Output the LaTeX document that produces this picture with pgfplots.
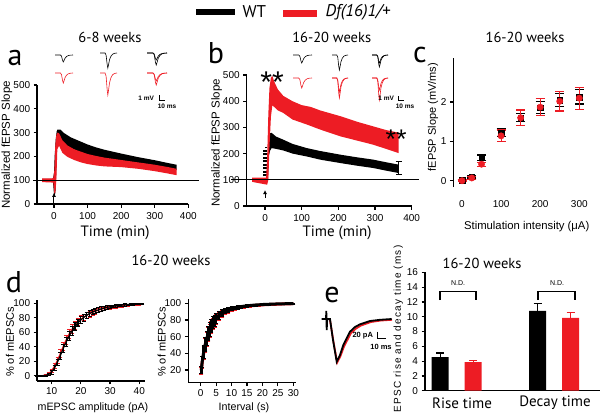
\documentclass[border=0pt]{standalone}
\usepackage{fontspec}
\setmainfont{Liberation Sans}
\newfontfamily\myriad{PT Sans}
\usepackage{pgfplots}
\usepackage{pgfplotstable}
\pgfplotsset{compat=1.18}
\usetikzlibrary{arrows.meta}
\definecolor{myred}{RGB}{237,28,36}
\newcommand\fs[1]{\fontsize{#1}{#1}\selectfont}
\pgfplotsset{panel/.style={anchor=south west, scale only axis, axis lines=left,
  axis line style={-, line width=1.5pt}, tick style={black, line width=1.2pt},
  tick align=outside, major tick length=3.5pt, tick label style={font=\fs{10}},
  /pgf/number format/assume math mode=true, clip=false}}

\pgfplotstableread{
x v
0 0
0.30 0
0.36 -0.15
0.42 -0.75
0.46 -1
0.50 -0.8
0.56 -0.45
0.64 -0.22
0.74 -0.08
0.86 -0.02
1 0
}\shape
\newcommand\tr[5]{\addplot[#1,line width=0.6pt] table[x expr={#2+#3*\thisrow{x}}, y expr={#4-#5*\thisrow{v}}]{\shape};}

% panel c
\pgfplotstableread{
x y e
0 0.01 0.02
25 0.10 0.03
50 0.585 0.07
100 1.22 0.10
150 1.60 0.10
200 1.86 0.15
250 2.05 0.17
300 2.13 0.18
}\cwt
\pgfplotstableread{
x y e
0 0.00 0.02
25 0.07 0.03
50 0.42 0.05
100 1.14 0.15
150 1.60 0.20
200 1.87 0.22
250 2.02 0.25
300 2.10 0.28
}\cdf
% panel d left
\pgfplotstableread{
x y e
5 0 0.3
6 0 0.3
7 0.1 0.3
8 0.6 0.8
9 2 1.5
10 5 2.5
11 11 3.5
12 19 4.5
13 28 5
14 38 5.5
15 47 6
16 55 6
17 62 6
18 68 5.5
19 73 5
20 77 5
21 80.5 4.5
22 83.5 4
23 86 4
24 88 3.5
25 89.5 3.5
26 91 3
27 92.5 3
28 93.5 2.5
29 94.5 2.5
30 95.2 2
31 96 2
32 96.5 2
33 97 1.5
34 97.5 1.5
35 98 1.5
36 98.3 1
37 98.6 1
38 98.9 1
39 99.2 1
40 99.4 0.8
41 99.6 0.6
}\dawt
\pgfplotstableread{
x y e
5 0 0.3
6 0 0.3
7 0.2 0.3
8 1 0.8
9 3 1.5
10 7 2.5
11 13.5 3.5
12 21.5 4.5
13 31 5
14 41 5.5
15 50 6
16 58 6
17 64.5 6
18 70 5.5
19 74.5 5
20 78 5
21 81 4.5
22 83.5 4
23 85.5 4
24 87.5 3.5
25 89 3.5
26 90.5 3
27 91.8 3
28 92.8 2.5
29 93.7 2.5
30 94.5 2
31 95.2 2
32 95.8 2
33 96.3 1.5
34 96.8 1.5
35 97.2 1.5
36 97.6 1
37 97.9 1
38 98.2 1
39 98.5 1
40 98.8 0.8
41 99 0.6
}\dadf
% panel d right
\pgfplotstableread{
x y e
0.2 20 4
0.5 30 7
1 42 8
1.5 51 8.5
2 58 8.5
2.5 64 8.5
3 69 8
3.5 73 7.5
4 77 7
4.5 79.5 6.5
5 82 6
6 86 5
7 89 4.2
8 91 3.5
9 92.5 3
10 93.7 2.6
11 94.6 2.3
12 95.3 2
13 96 1.8
14 96.5 1.6
15 97 1.5
16 97.3 1.4
17 97.7 1.3
18 98 1.2
19 98.2 1.1
20 98.5 1
22 98.8 0.9
24 99.1 0.8
26 99.3 0.7
28 99.5 0.6
30 99.6 0.6
}\diwt
\pgfplotstableread{
x y e
0.2 19 4
0.5 29 7
1 40.5 8
1.5 49.5 8.5
2 56.5 8.5
2.5 62.5 8.5
3 67.5 8
3.5 71.5 7.5
4 75.5 7
4.5 78 6.5
5 80.5 6
6 84.5 5
7 87.5 4.2
8 89.8 3.5
9 91.5 3
10 92.8 2.6
11 93.8 2.3
12 94.6 2
13 95.3 1.8
14 95.9 1.6
15 96.4 1.5
16 96.8 1.4
17 97.2 1.3
18 97.5 1.2
19 97.8 1.1
20 98.1 1
22 98.5 0.9
24 98.8 0.8
26 99.1 0.7
28 99.3 0.6
30 99.5 0.6
}\didf

\begin{document}
\begin{tikzpicture}
\path[use as bounding box] (0,0) rectangle (601pt,418pt);

% ---------- panel a ----------
\begin{axis}[panel, at={(37.2pt,214pt)}, width=151.1pt, height=119pt,
  xmin=-50, xmax=400, ymin=0, ymax=500, xtick={0,100,...,400}, ytick={0,100,...,500},
  xticklabel style={yshift=-1.5pt}]
\addplot[fill=black, draw=none] coordinates {(-35,106) (-3,106) (0,130) (2,200) (5,270) (8,305) (10,312) (20,312) (30,298) (50,280) (75,265) (100,250) (125,238) (150,228) (175,220) (200,212) (250,197) (300,184) (340,172) (365,165)
 (365,142) (340,147) (300,155) (250,165) (200,175) (175,180) (150,185) (125,192) (100,205) (75,220) (50,235) (30,250) (20,265) (10,270) (8,200) (5,60) (2,30) (0,40) (-3,94) (-35,94)};
\addplot[fill=myred, draw=none] coordinates {(-35,108) (-5,108) (-2,110) (1,140) (4,250) (7,290) (10,300) (15,298) (25,268) (40,246) (60,230) (80,220) (100,210) (125,202) (150,195) (200,185) (250,175) (300,165) (340,155) (365,148)
 (365,121) (340,128) (300,138) (250,148) (200,155) (150,158) (125,162) (100,168) (80,175) (60,185) (40,198) (25,215) (15,245) (10,230) (7,100) (4,45) (1,45) (-2,90) (-35,92)};
\addplot[black, line width=1.2pt] coordinates {(-62,100) (431,100)};
\addplot[black, line width=1pt, -{Latex[length=4pt,width=4pt]}] coordinates {(0,-4) (0,47)};
\end{axis}

% ---------- panel b ----------
\begin{axis}[panel, at={(246.7pt,212pt)}, width=165pt, height=131pt,
  xmin=-50, xmax=400, ymin=0, ymax=500, xtick={0,100,...,400}, ytick={0,100,...,500},
  xticklabel style={yshift=-1.5pt}]
\addplot[fill=black, draw=none] coordinates {(-35,105) (8,105) (10,255) (14,278) (18,279) (30,265) (50,253) (75,237) (114,221) (150,210) (205,196) (250,186) (295,177) (330,167) (364,158)
 (364,126) (330,135) (295,145) (250,154) (205,164) (150,177) (114,189) (75,200) (50,212) (30,218) (18,221) (14,212) (10,190) (8,95) (-35,95)};
\addplot[black, line width=1.6pt, dash pattern=on 2pt off 1.5pt] coordinates {(-3,100) (-3,215)};
\addplot[black, line width=1.6pt, dash pattern=on 2pt off 1.5pt] coordinates {(3,100) (3,225)};
\addplot[fill=myred, draw=none] coordinates {(-35,108) (3,108) (6,200) (9,350) (12,450) (16,490) (20,496) (25,475) (35,445) (50,420) (75,400) (100,385) (125,378) (150,365) (175,355) (205,343) (250,322) (295,304) (330,290) (364,280)
 (364,202) (330,218) (295,234) (250,250) (205,266) (175,280) (150,292) (114,311) (75,330) (50,355) (35,365) (25,378) (20,385) (16,340) (12,220) (9,100) (6,82) (3,82) (-35,92)};
\addplot[black, line width=1pt, draw=none, error bars/.cd, y dir=both, y explicit, error bar style={black, line width=1pt}, error mark options={rotate=90, black, mark size=3pt, line width=1pt}] coordinates {(364,145) +- (0,25)};
\addplot[black, line width=1.2pt] coordinates {(-92,100) (420,100)};
\addplot[black, line width=1pt, -{Latex[length=4pt,width=4pt]}] coordinates {(0,30) (0,61)};
\end{axis}

% ---------- panel c ----------
\begin{axis}[panel, at={(453.4pt,231pt)}, width=133.7pt, height=129pt,
  xmin=-22, xmax=320, ymin=-0.16, ymax=3.12, xtick={0,100,200,300}, ytick={0,1,2},
  x axis line style={draw=none}, major x tick style={draw=none},
  xticklabel style={yshift=-6pt}]
\addplot[black, only marks, mark=square*, mark size=2.8pt, error bars/.cd, y dir=both, y explicit, error bar style={black, line width=1.2pt}, error mark options={rotate=90, black, mark size=4.5pt, line width=1.2pt}] table[x=x, y=y, y error=e] {\cwt};
\addplot[myred, only marks, mark=*, mark size=3.2pt, error bars/.cd, y dir=both, y explicit, error bar style={myred, line width=1.2pt}, error mark options={rotate=90, myred, mark size=4.5pt, line width=1.2pt}] table[x=x, y=y, y error=e] {\cdf};
\end{axis}

% ---------- panel d left ----------
\begin{axis}[panel, at={(37.1pt,37.2pt)}, width=108pt, height=81.1pt,
  xmin=5, xmax=42, ymin=-7, ymax=105, xtick={10,20,30,40}, ytick={0,20,...,100}]
\addplot[myred, line width=1.2pt, error bars/.cd, y dir=both, y explicit, error bar style={myred, line width=1.1pt}] table[x=x, y=y, y error=e] {\dadf};
\addplot[black, line width=1.2pt, error bars/.cd, y dir=both, y explicit, error bar style={black, line width=1.1pt}] table[x=x, y=y, y error=e] {\dawt};
\end{axis}

% ---------- panel d right ----------
\begin{axis}[panel, at={(188.3pt,35.5pt)}, width=108.1pt, height=83.4pt,
  xmin=-4, xmax=31, ymin=5, ymax=105, xtick={0,5,...,30}, ytick={20,40,...,100}]
\addplot[myred, line width=3pt, error bars/.cd, y dir=both, y explicit, error bar style={myred, line width=2.5pt}] table[x=x, y=y, y error=e] {\didf};
\addplot[black, line width=3pt, error bars/.cd, y dir=both, y explicit, error bar style={black, line width=2.5pt}] table[x=x, y=y, y error=e] {\diwt};
\end{axis}

% ---------- panel e ----------
\begin{axis}[panel, at={(425pt,27.3pt)}, width=175pt, height=118.4pt,
  xmin=0.676, xmax=2.47, ymin=0, ymax=16, ytick={0,2,...,16}, xtick=\empty,
  ybar, bar width=17pt]
\addplot[fill=black, draw=none, bar shift=-16.5pt, error bars/.cd, y dir=plus, y explicit, error bar style={black, line width=1.2pt}, error mark options={rotate=90, black, mark size=4pt, line width=1.2pt}] coordinates {(1,4.55) +- (0,0.55) (2,10.8) +- (0,1.0)};
\addplot[fill=myred, draw=none, bar shift=16.5pt, error bars/.cd, y dir=plus, y explicit, error bar style={myred, line width=1.2pt}, error mark options={rotate=90, myred, mark size=4pt, line width=1.2pt}] coordinates {(1,3.85) +- (0,0.25) (2,9.85) +- (0,0.7)};
\end{axis}

% ---------- overlay (pixel coordinates, y downward) ----------
\begin{axis}[at={(0pt,0pt)}, anchor=south west, scale only axis, width=601pt, height=418pt,
  xmin=0, xmax=601, ymin=0, ymax=418, y dir=reverse, hide axis, clip=false]
% legend
\addplot[black, line width=6.5pt] coordinates {(196,12) (235,12)};
\addplot[myred, line width=7pt] coordinates {(283,13) (317,13)};
\node[anchor=west, font=\myriad\fs{17}] at (axis cs:239,12) {WT};
\node[anchor=west, font=\myriad\itshape\fs{17}] at (axis cs:322,12) {Df(16)1/+};
% titles
\node[font=\myriad\fs{14.5}] at (axis cs:110,37) {6-8 weeks};
\node[font=\myriad\fs{14.5}] at (axis cs:331.7,37) {16-20 weeks};
\node[font=\myriad\fs{14.5}] at (axis cs:525,37) {16-20 weeks};
\node[font=\myriad\fs{14.5}] at (axis cs:171,260) {16-20 weeks};
\node[font=\myriad\fs{14.5}] at (axis cs:482,263) {16-20 weeks};
% panel letters
\node[anchor=base, font=\myriad\fs{30}] at (axis cs:15,65) {a};
\node[anchor=base, font=\myriad\fs{30}] at (axis cs:216,63) {b};
\node[anchor=base, font=\myriad\fs{30}] at (axis cs:420,62) {c};
\node[anchor=base, font=\myriad\fs{30}] at (axis cs:14,292) {d};
\node[anchor=base, font=\myriad\fs{30}] at (axis cs:332,302) {e};
% axis labels
\node[font=\myriad\fs{15}] at (axis cs:115,233) {Time (min)};
\node[font=\myriad\fs{15}] at (axis cs:337,233) {Time (min)};
\node[font=\fs{11.3}] at (axis cs:526.7,227) {Stimulation intensity (μA)};
\node[font=\fs{10.7}] at (axis cs:93,408) {mEPSC amplitude (pA)};
\node[font=\fs{10.7}] at (axis cs:244,408) {Interval (s)};
\node[font=\myriad\fs{15}] at (axis cs:462,403) {Rise time};
\node[font=\myriad\fs{15}] at (axis cs:555,403) {Decay time};
\node[rotate=90, font=\fs{11.5}] at (axis cs:7,145) {Normalized fEPSP Slope};
\node[rotate=90, font=\fs{11.5}] at (axis cs:216.7,143) {Normalized fEPSP Slope};
\node[rotate=90, font=\fs{11}] at (axis cs:433,117) {fEPSP Slope (mV/ms)};
\node[rotate=90, font=\fs{11}] at (axis cs:10,342) {\% of mEPSCs};
\node[rotate=90, font=\fs{11}] at (axis cs:161.7,342) {\% of mEPSCs};
\node[rotate=90, font=\fs{10}\addfontfeature{LetterSpace=12}] at (axis cs:398.3,329) {EPSC rise and decay time (ms)};
% asterisks
\node[anchor=base, font=\fs{30}] at (axis cs:272,92) {**};
\node[anchor=base, font=\fs{27}] at (axis cs:396,148) {**};
% N.D. brackets
\addplot[black, line width=1.2pt] coordinates {(440,300) (440,291.5) (476,291.5) (476,300)};
\addplot[black, line width=1.2pt] coordinates {(538,300) (538,291.5) (575,291.5) (575,300)};
\node[font=\fs{7}] at (axis cs:458,283) {N.D.};
\node[font=\fs{7}] at (axis cs:557,283) {N.D.};
% traces panel a
\tr{black}{55}{18}{55}{7}
\tr{black}{100}{17}{53}{15}
\tr{black}{147}{20}{53}{12}
\tr{black}{147}{20}{53}{7}
\tr{myred}{55}{18}{73}{10}
\tr{myred}{100}{17}{73}{22}
\tr{myred}{147}{20}{73}{12}
\tr{myred}{147}{20}{73}{8}
\addplot[black, line width=0.8pt] coordinates {(159,95) (159,100) (165,100)};
\node[anchor=east, font=\bfseries\fs{6.5}] at (axis cs:157.5,98) {1 mV};
\node[anchor=north, font=\bfseries\fs{6.5}] at (axis cs:167,100.5) {10 ms};
% traces panel b
\tr{black}{293}{19}{55}{8}
\tr{black}{332}{16}{55}{15}
\tr{black}{372}{16}{55}{12}
\tr{black}{372}{16}{55}{8}
\tr{myred}{293}{19}{78}{10}
\tr{myred}{332}{16}{78}{20}
\tr{myred}{332}{16}{78}{14}
\tr{myred}{372}{16}{78}{22}
\tr{myred}{372}{16}{78}{12}
\addplot[black, line width=0.8pt] coordinates {(398,96) (398,100) (404,100)};
\node[anchor=east, font=\bfseries\fs{6.5}] at (axis cs:397.5,98.5) {1 mV};
\node[anchor=north, font=\bfseries\fs{6.5}] at (axis cs:405,100.5) {10 ms};
% trace panel e
\addplot[myred, line width=1.8pt] coordinates {(330,320) (333.5,342) (337.2,362.5) (340.5,356) (344,346.5) (351,333) (356,328.5) (361,325.5) (371,322) (381,320.5) (392,319.8)};
\addplot[black, line width=1.8pt] coordinates {(321.7,319) (326,319) (326.3,311) (326.7,330) (327.2,319) (330,319) (333,340) (336.7,361.7) (340,355) (343.3,345) (350,331.7) (355,327) (360,324.3) (370,321) (380,319.8) (391.7,319)};
\addplot[black, line width=1pt] coordinates {(377.3,331.7) (377.3,338.8) (386,338.8)};
\node[anchor=east, font=\bfseries\fs{7.5}] at (axis cs:376.5,336) {20 pA};
\node[anchor=north, font=\bfseries\fs{7.5}] at (axis cs:381,340.5) {10 ms};
\end{axis}
\end{tikzpicture}
\end{document}
